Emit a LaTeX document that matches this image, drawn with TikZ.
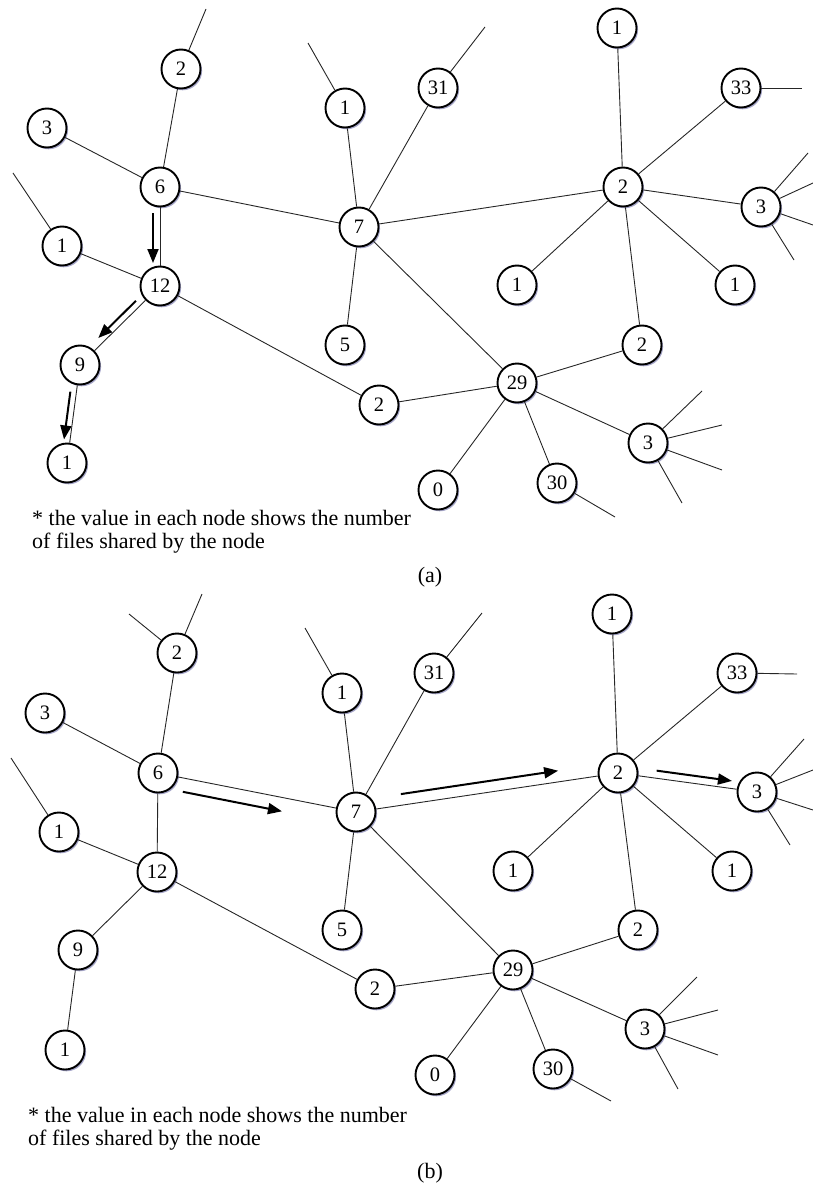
\documentclass[tikz,border=0pt]{standalone}
\usepackage{fontspec}
\setmainfont{Liberation Serif}
\usetikzlibrary{shadows,arrows.meta,calc}

\tikzset{
  peer/.style={circle, draw=black, line width=1.9pt, fill=white,
    minimum size=39pt, inner sep=0pt, font=\fontsize{20.5}{20.5}\selectfont,
    drop shadow={shadow xshift=1.6pt, shadow yshift=-1.8pt,
      fill=blue!25!gray, opacity=0.55}},
  link/.style={draw=black!85, line width=0.9pt},
  flow/.style={draw=black, line width=2pt,
    -{Triangle[length=14pt,width=11pt]}},
  note/.style={align=left, anchor=west, inner sep=0pt,
    font=\fontsize{22}{23}\selectfont},
  tag/.style={inner sep=0pt, font=\fontsize{22}{23}\selectfont}
}

\begin{document}
\begin{tikzpicture}[x=1pt, y=-1pt]
\useasboundingbox (0,0) rectangle (813,1185);

% ---------------- network (a): query flooding ----------------
\node[peer] (a2t) at (181,69) {2};
\node[peer] (a3)  at (47,128) {3};
\node[peer] (a6)  at (160,187) {6};
\node[peer] (a1l) at (62,246) {1};
\node[peer] (a12) at (160,286) {12};
\node[peer] (a9)  at (80,365) {9};
\node[peer] (a1b) at (67,463) {1};
\node[peer] (a1m) at (345,108) {1};
\node[peer] (a7)  at (359,227) {7};
\node[peer] (a5)  at (345,345) {5};
\node[peer] (a2m) at (379,405) {2};
\node[peer] (a31) at (438,88) {31};
\node[peer] (a1t) at (617,28) {1};
\node[peer] (a33) at (741,88) {33};
\node[peer] (a2h) at (623,187) {2};
\node[peer] (a3r) at (761,207) {3};
\node[peer] (a1a) at (517,285) {1};
\node[peer] (a1c) at (735,285) {1};
\node[peer] (a2l) at (642,345) {2};
\node[peer] (a29) at (517,383) {29};
\node[peer] (a3l) at (648,443) {3};
\node[peer] (a0)  at (438,490) {0};
\node[peer] (a30) at (557,483) {30};

\coordinate (a2tU) at (206,9);
\coordinate (a1lU) at (13,173);
\coordinate (a1mU) at (308,43);
\coordinate (a31U) at (485,27);
\coordinate (a33R) at (802,88);
\coordinate (a3rA) at (808,153);
\coordinate (a3rB) at (813,183);
\coordinate (a3rC) at (813,225);
\coordinate (a3rD) at (794,260);
\coordinate (a3lA) at (702,391);
\coordinate (a3lB) at (722,425);
\coordinate (a3lC) at (722,470);
\coordinate (a3lD) at (682,503);
\coordinate (a30R) at (615,517);

\draw[link] (a2t) -- (a2tU);
\draw[link] (a1l) -- (a1lU);
\draw[link] (a1m) -- (a1mU);
\draw[link] (a31) -- (a31U);
\draw[link] (a33) -- (a33R);
\draw[link] (a3r) -- (a3rA);
\draw[link] (a3r) -- (a3rB);
\draw[link] (a3r) -- (a3rC);
\draw[link] (a3r) -- (a3rD);
\draw[link] (a3l) -- (a3lA);
\draw[link] (a3l) -- (a3lB);
\draw[link] (a3l) -- (a3lC);
\draw[link] (a3l) -- (a3lD);
\draw[link] (a30) -- (a30R);

\draw[link] (a2t) -- (a6);
\draw[link] (a3) -- (a6);
\draw[link] (a6) -- (a7);
\draw[link] (a6) -- (a12);
\draw[link] (a1l) -- (a12);
\draw[link] (a12) -- (a9);
\draw[link] (a9) -- (a1b);
\draw[link] (a12) -- (a2m);
\draw[link] (a1m) -- (a7);
\draw[link] (a31) -- (a7);
\draw[link] (a7) -- (a5);
\draw[link] (a7) -- (a2h);
\draw[link] (a7) -- (a29);
\draw[link] (a2m) -- (a29);
\draw[link] (a2h) -- (a1t);
\draw[link] (a2h) -- (a33);
\draw[link] (a2h) -- (a3r);
\draw[link] (a2h) -- (a1a);
\draw[link] (a2h) -- (a1c);
\draw[link] (a2h) -- (a2l);
\draw[link] (a2l) -- (a29);
\draw[link] (a29) -- (a3l);
\draw[link] (a29) -- (a0);
\draw[link] (a29) -- (a30);

% query path 6 -> 12 -> 9 -> 1
\draw[flow] ($(a6)!26pt!(a12)+(-7,0)$) -- ($(a6)!76pt!(a12)+(-7,0)$);
\draw[flow] ($(a12)!27.5pt!(a9)+(-4.5,-4.5)$) -- ($(a12)!80.4pt!(a9)+(-4.5,-4.5)$);
\draw[flow] ($(a9)!27.7pt!(a1b)+(-6,-0.8)$) -- ($(a9)!75.9pt!(a1b)+(-6,-0.8)$);

\node[note] (anote) at (32,531.5) {* the value in each node shows the number\\of files shared by the node};
\node[tag] (acap) at (430,577) {(a)};

% ---------------- network (b): walk towards rich peers ----------------
\node[peer] (b2t) at (177,653) {2};
\node[peer] (b3)  at (45,713) {3};
\node[peer] (b6)  at (158,773) {6};
\node[peer] (b1l) at (59,832) {1};
\node[peer] (b12) at (157,872) {12};
\node[peer] (b9)  at (78,950) {9};
\node[peer] (b1b) at (65,1050) {1};
\node[peer] (b1m) at (342,693) {1};
\node[peer] (b7)  at (356,812) {7};
\node[peer] (b5)  at (342,930) {5};
\node[peer] (b2m) at (375,989) {2};
\node[peer] (b31) at (434,673) {31};
\node[peer] (b1t) at (612,614) {1};
\node[peer] (b33) at (737,673) {33};
\node[peer] (b2h) at (618,773) {2};
\node[peer] (b3r) at (757,792) {3};
\node[peer] (b1a) at (513,871) {1};
\node[peer] (b1c) at (732,871) {1};
\node[peer] (b2l) at (638,930) {2};
\node[peer] (b29) at (513,970) {29};
\node[peer] (b3l) at (645,1029) {3};
\node[peer] (b0)  at (435,1075) {0};
\node[peer] (b30) at (553,1069) {30};

\coordinate (b2tU) at (202,594);
\coordinate (b2tL) at (129,614);
\coordinate (b1lU) at (11,758);
\coordinate (b1mU) at (305,628);
\coordinate (b31U) at (482,613);
\coordinate (b33R) at (797,674);
\coordinate (b3rA) at (804,739);
\coordinate (b3rB) at (813,770);
\coordinate (b3rC) at (813,810);
\coordinate (b3rD) at (790,845);
\coordinate (b3lA) at (697,977);
\coordinate (b3lB) at (718,1010);
\coordinate (b3lC) at (718,1055);
\coordinate (b3lD) at (678,1089);
\coordinate (b30R) at (611,1101);

\draw[link] (b2t) -- (b2tU);
\draw[link] (b2t) -- (b2tL);
\draw[link] (b1l) -- (b1lU);
\draw[link] (b1m) -- (b1mU);
\draw[link] (b31) -- (b31U);
\draw[link] (b33) -- (b33R);
\draw[link] (b3r) -- (b3rA);
\draw[link] (b3r) -- (b3rB);
\draw[link] (b3r) -- (b3rC);
\draw[link] (b3r) -- (b3rD);
\draw[link] (b3l) -- (b3lA);
\draw[link] (b3l) -- (b3lB);
\draw[link] (b3l) -- (b3lC);
\draw[link] (b3l) -- (b3lD);
\draw[link] (b30) -- (b30R);

\draw[link] (b2t) -- (b6);
\draw[link] (b3) -- (b6);
\draw[link] (b6) -- (b7);
\draw[link] (b6) -- (b12);
\draw[link] (b1l) -- (b12);
\draw[link] (b12) -- (b9);
\draw[link] (b9) -- (b1b);
\draw[link] (b12) -- (b2m);
\draw[link] (b1m) -- (b7);
\draw[link] (b31) -- (b7);
\draw[link] (b7) -- (b5);
\draw[link] (b7) -- (b2h);
\draw[link] (b7) -- (b29);
\draw[link] (b2m) -- (b29);
\draw[link] (b2h) -- (b1t);
\draw[link] (b2h) -- (b33);
\draw[link] (b2h) -- (b3r);
\draw[link] (b2h) -- (b1a);
\draw[link] (b2h) -- (b1c);
\draw[link] (b2h) -- (b2l);
\draw[link] (b2l) -- (b29);
\draw[link] (b29) -- (b3l);
\draw[link] (b29) -- (b0);
\draw[link] (b29) -- (b30);

% query path 6 -> 7 -> 2 -> 3
\draw[flow] ($(b6)!28pt!(b7)+(-2.6,13.4)$) -- ($(b6)!129pt!(b7)+(-2.6,13.4)$);
\draw[flow] ($(b7)!47pt!(b2h)+(-1.6,-11)$) -- ($(b7)!206pt!(b2h)+(-1.6,-11)$);
\draw[flow] ($(b2h)!38pt!(b3r)+(1,-7.5)$) -- ($(b2h)!114pt!(b3r)+(1,-7.5)$);

\node[note] (bnote) at (28,1128.5) {* the value in each node shows the number\\of files shared by the node};
\node[tag] (bcap) at (430,1173) {(b)};
\end{tikzpicture}
\end{document}
